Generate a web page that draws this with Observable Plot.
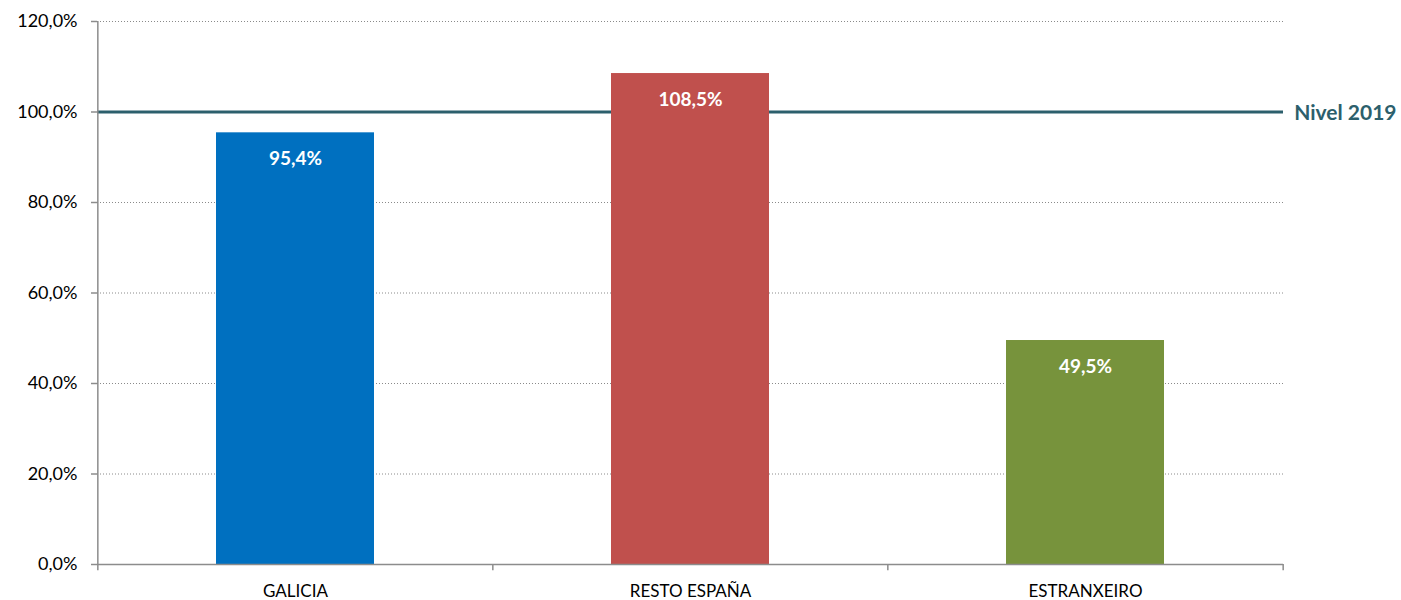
<!DOCTYPE html>
<html>
<head>
<meta charset="utf-8">
<script src="https://cdn.jsdelivr.net/npm/d3@7"></script>
<script src="https://cdn.jsdelivr.net/npm/@observablehq/plot@0.6"></script>
<style>
  html, body { margin: 0; padding: 0; background: #fff; }
  svg { font-family: Lato, "Open Sans", sans-serif; }
</style>
</head>
<body>
<div id="chart"></div>
<script>
const categories = ["GALICIA", "RESTO ESPAÑA", "ESTRANXEIRO"];
const values = [95.4, 108.5, 49.5];
const colors = ["#0070c0", "#c0504d", "#77933c"];
const yTicks = [0, 20, 40, 60, 80, 100, 120];
const refLevel = 100;
const refLabel = "Nivel 2019";

const data = categories.map((c, i) => ({cat: c, value: values[i], color: colors[i]}));

const W = 1401, H = 600;
const mL = 97, mR = 118, mT = 21, mB = 36;
const step = (W - mL - mR) / categories.length;
const fmt = v => v.toFixed(1).replace(".", ",") + "%";
const axisColor = "#8c8c8c";

const chart = Plot.plot({
  width: W, height: H,
  marginLeft: mL, marginRight: mR, marginTop: mT, marginBottom: mB,
  style: {fontFamily: "Lato, 'Open Sans', sans-serif", fontSize: "16px", color: "#000", background: "#fff", overflow: "visible"},
  x: {domain: categories, paddingInner: 0.6, paddingOuter: 0.3, label: null},
  y: {domain: [0, 120], label: null},
  marks: [
    Plot.ruleY(yTicks.filter(d => d > 0), {stroke: "#8a8a8a", strokeWidth: 1, strokeDasharray: "1,2"}),
    Plot.ruleY([refLevel], {stroke: "#2c5f6c", strokeWidth: 3}),
    Plot.barY(data, {x: "cat", y: "value", fill: "color"}),
    Plot.text(data, {x: "cat", y: "value", text: d => fmt(d.value), dy: 26, fill: "#fff", fontWeight: "bold", fontSize: 19}),
    Plot.text([refLabel], {x: () => categories[categories.length - 1], y: () => refLevel, text: d => d, dx: step / 2 + 11, dy: 1, textAnchor: "start", fill: "#2c5f6c", fontWeight: "bold", fontSize: 21}),
    Plot.ruleY([0], {stroke: axisColor, strokeWidth: 1.5}),
    Plot.ruleX([categories[0]], {x: d => d, dx: -step / 2, y1: 0, y2: 120, stroke: axisColor, strokeWidth: 1.5}),
    Plot.ruleX(categories, {x: d => d, dx: -step / 2, y1: 0, y2: -1.4, stroke: axisColor, strokeWidth: 1.5}),
    Plot.ruleX([categories[categories.length - 1]], {x: d => d, dx: step / 2, y1: 0, y2: -1.4, stroke: axisColor, strokeWidth: 1.5}),
    Plot.axisY(yTicks, {tickFormat: fmt, tickSize: 6, tickPadding: 14, stroke: axisColor, strokeWidth: 1.5, fill: "#000", fontSize: 18, label: null}),
    Plot.axisX({tickSize: 0, tickPadding: 20, fill: "#000", fontSize: 17, label: null})
  ]
});
document.getElementById("chart").appendChild(chart);
</script>
</body>
</html>
